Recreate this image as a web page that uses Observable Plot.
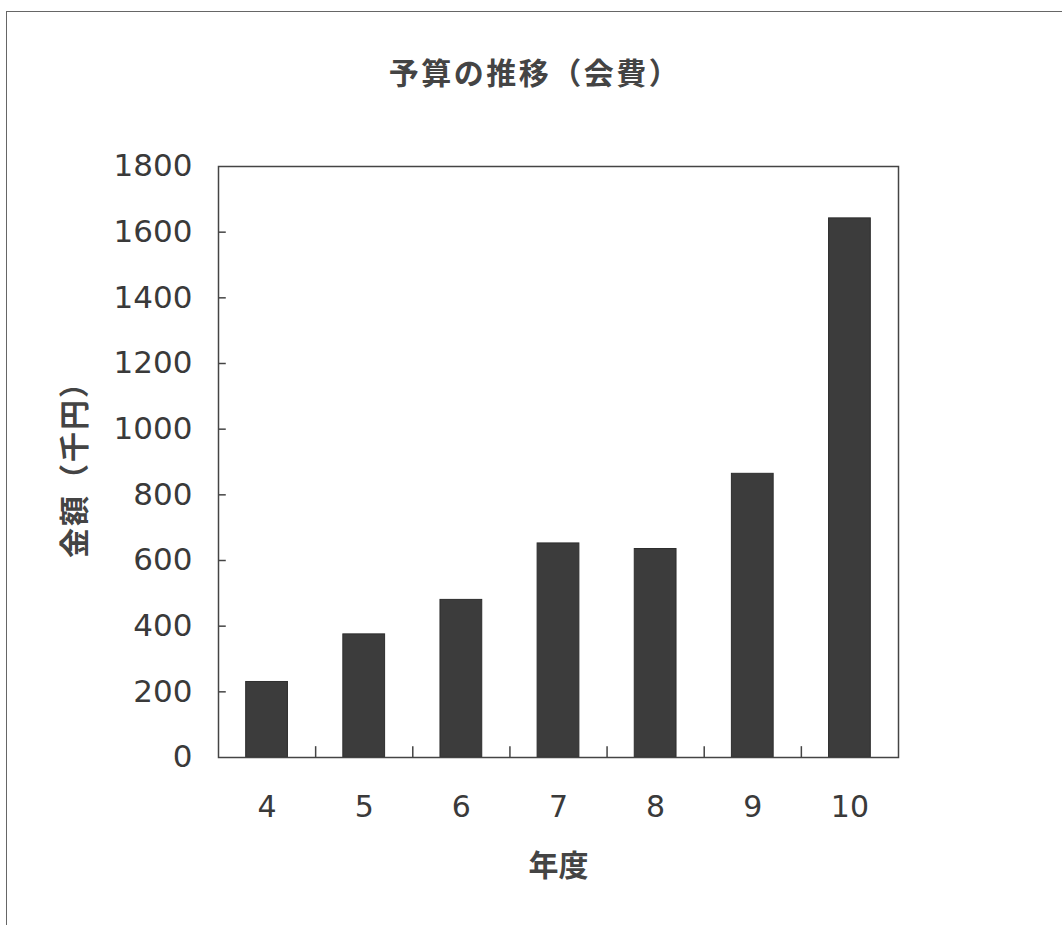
<!DOCTYPE html>
<html><head><meta charset="utf-8">
<script src="https://cdn.jsdelivr.net/npm/d3@7"></script>
<script src="https://cdn.jsdelivr.net/npm/@observablehq/plot@0.6"></script>
<style>
body{margin:0;background:#fff;}
#wrap{position:relative;width:1062px;height:925px;overflow:hidden;background:#fff;}
#border{position:absolute;left:6px;top:11px;width:1100px;height:1000px;border-left:1.5px solid #666;border-top:1.5px solid #666;}
#title{position:absolute;top:51px;left:0;width:1070px;text-align:center;font-family:"Noto Sans CJK JP";font-weight:bold;font-size:30px;letter-spacing:2.5px;line-height:40px;color:#444;}
#chart{position:absolute;left:0;top:100px;}
g[aria-label="y-axis label"] text, g[aria-label="x-axis label"] text{font-family:"Noto Sans CJK JP";font-size:30px;font-weight:bold;fill:#444;}
g[aria-label="y-axis label"] text{letter-spacing:2px;}
</style>
</head><body>
<div id="wrap"><div id="border"></div><div id="title"></div><div id="chart"></div></div>
<script>
const titleText = "予算の推移（会費）";
const xLabel = "年度";
const yLabel = "金額（千円）";
const years = [4, 5, 6, 7, 8, 9, 10];
const values = [230, 375, 480, 652, 635, 864, 1642];
const yTicks = [0, 200, 400, 600, 800, 1000, 1200, 1400, 1600, 1800];

const data = years.map((y, i) => ({year: y, value: values[i]}));
const boundaries = years.slice(1).map(y => y - 0.5);
const barHalf = 0.215;

document.getElementById("title").textContent = titleText;

const chart = Plot.plot({
  width: 1062,
  height: 825,
  marginTop: 66,
  marginBottom: 168,
  marginLeft: 218,
  marginRight: 164,
  style: {fontFamily: "DejaVu Sans", color: "#3a3a3a", background: "transparent", overflow: "visible"},
  x: {domain: [years[0] - 0.5, years[years.length - 1] + 0.5]},
  y: {domain: [yTicks[0], yTicks[yTicks.length - 1]]},
  marks: [
    Plot.rect(data, {x1: d => d.year - barHalf, x2: d => d.year + barHalf, y1: 0, y2: "value", fill: "#3c3c3c", stroke: "#2e2e2e", strokeWidth: 1}),
    Plot.ruleX(boundaries, {y1: 0, y2: 33, stroke: "#444", strokeWidth: 1.5}),
    Plot.ruleY(yTicks.slice(1, -1), {x1: years[0] - 0.5, x2: years[0] - 0.42, stroke: "#444", strokeWidth: 1.5}),
    Plot.frame({stroke: "#444", strokeWidth: 1.5}),
    Plot.axisX(years, {tickSize: 0, tickPadding: 38, fontSize: 30, tickFormat: d => String(d), label: xLabel, labelAnchor: "center", labelOffset: 118, labelArrow: "none"}),
    Plot.axisY(yTicks, {tickSize: 0, tickPadding: 26, fontSize: 31, tickFormat: d => String(d), label: yLabel, labelAnchor: "center", labelOffset: 155, labelArrow: "none"})
  ]
});
document.getElementById("chart").appendChild(chart);
</script>
</body></html>
